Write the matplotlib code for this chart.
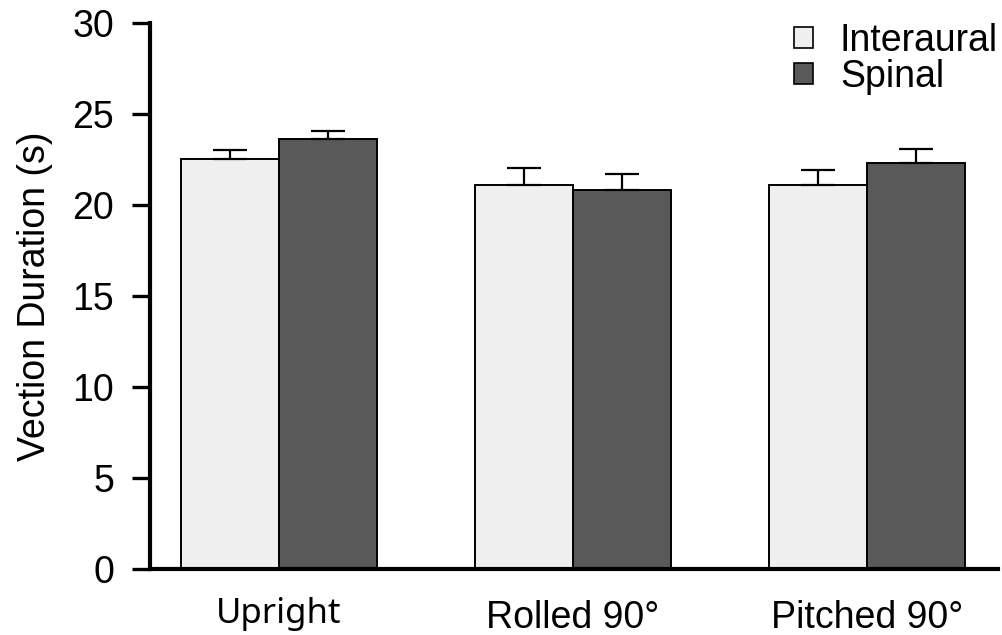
import matplotlib
matplotlib.use('Agg')
import matplotlib.pyplot as plt
from matplotlib.patches import Patch
import numpy as np

conditions = ['Upright', 'Rolled 90°', 'Pitched 90°']
series = ['Interaural', 'Spinal']
interaural_mean = [22.5, 21.1, 21.1]
interaural_err = [0.5, 0.9, 0.8]
spinal_mean = [23.6, 20.8, 22.3]
spinal_err = [0.45, 0.9, 0.75]
y_ticks = [0, 5, 10, 15, 20, 25, 30]

light = '#efefef'
dark = '#595959'

plt.rcParams['font.family'] = ['Liberation Sans', 'DejaVu Sans']

fig = plt.figure(figsize=(10.03, 6.35), dpi=100)
ax = fig.add_axes([0.1496, 0.1039, 0.8454, 0.8604])

x = np.arange(len(conditions))
w = 0.333
err_kw = dict(ecolor='black', elinewidth=1.6, capsize=12.2, capthick=1.6)

ax.bar(x - w / 2, interaural_mean, w, color=light, edgecolor='black',
       linewidth=1.4, yerr=[np.zeros(3), interaural_err], error_kw=err_kw,
       label=series[0], zorder=2)
ax.bar(x + w / 2, spinal_mean, w, color=dark, edgecolor='black',
       linewidth=1.4, yerr=[np.zeros(3), spinal_err], error_kw=err_kw,
       label=series[1], zorder=2)

ax.set_xlim(-0.4388, 2.446)
ax.set_ylim(0, 30)
ax.set_yticks(y_ticks)
ax.tick_params(axis='y', length=13, width=2.4, pad=13, labelsize=27)
ax.set_xticks([])

# condition labels under each group; the first one sits a little higher
label_fonts = [['Noto Sans', 'DejaVu Sans'], ['Liberation Sans', 'DejaVu Sans'],
               ['Liberation Sans', 'DejaVu Sans']]
label_sizes = [25, 27, 27]
label_y = [-0.098, -0.108, -0.108]
for xi, name, fam, fs, ly in zip(x, conditions, label_fonts, label_sizes, label_y):
    ax.text(xi, ly, name, transform=ax.get_xaxis_transform(), ha='center',
            va='baseline', fontsize=fs, family=fam)

for side in ['top', 'right']:
    ax.spines[side].set_visible(False)
ax.spines['left'].set_linewidth(3)
ax.spines['bottom'].set_linewidth(3)
ax.spines['left'].set_bounds(0, 30)

ax.set_ylabel('Vection Duration (s)', fontsize=27, labelpad=14)

handles = [Patch(facecolor=light, edgecolor='black', linewidth=1.2),
           Patch(facecolor=dark, edgecolor='black', linewidth=1.2)]
ax.legend(handles, series, loc='upper right', bbox_to_anchor=(1.0, 1.0),
          frameon=False, fontsize=27, handlelength=0.5, handleheight=0.5,
          handletextpad=0.72, labelspacing=0.0, borderaxespad=0,
          borderpad=0)

fig.savefig('out.png', dpi=100)
